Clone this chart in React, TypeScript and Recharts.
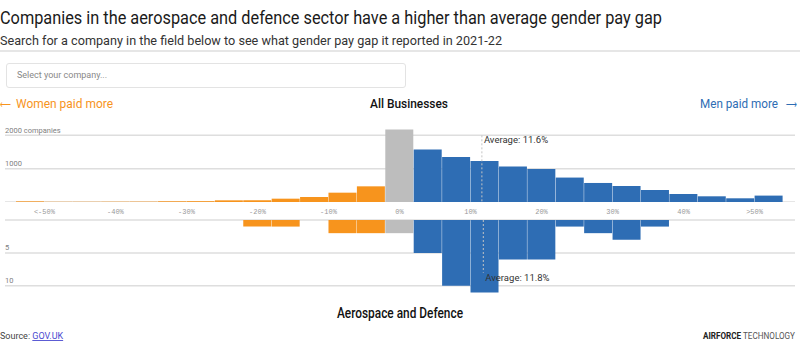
import React from "react"
import { BarChart, Bar, Cell, XAxis, YAxis, CartesianGrid, ReferenceLine } from "recharts"

// 4-point bins of reported gender pay gap (%), from <-50 up to >50
const bins = [
  "<-50", "-50/-46", "-46/-42", "-42/-38", "-38/-34", "-34/-30", "-30/-26", "-26/-22", "-22/-18",
  "-18/-14", "-14/-10", "-10/-6", "-6/-2", "-2/2", "2/6", "6/10", "10/14", "14/18", "18/22",
  "22/26", "26/30", "30/34", "34/38", "38/42", "42/46", "46/50", ">50",
]
// bin centres, used for the numeric % axis
const binMid = [
  -52, -48, -44, -40, -36, -32, -28, -24, -20, -16, -12, -8, -4,
  0,
  4, 8, 12, 16, 20, 24, 28, 32, 36, 40, 44, 48, 52,
]

// number of companies per bin, all businesses
const allBusinesses = [
  20, 8, 8, 10, 12, 22, 25, 50, 55, 100, 150, 280, 470,
  2175,
  1573, 1351, 1231, 1063, 991, 733, 571, 480, 360, 240, 171, 111, 192,
]

// number of companies per bin, aerospace and defence
const aerospace = [
  0, 0, 0, 0, 0, 0, 0, 0, 1, 1, 0, 2, 2,
  2,
  5, 10, 11, 6, 6, 1, 2, 3, 1, 0, 0, 0, 0,
]

const allAverage = 11.6
const aerospaceAverage = 11.8

const xTicks = [-50, -40, -30, -20, -10, 0, 10, 20, 30, 40, 50]
const xDomain = [-54, 54]
const allGrid = [0, 1000, 2000]
const allGridLabels = ["", "1000", "2000 companies"]
const aeroGrid = [0, 5, 10]
const aeroGridLabels = ["", "5", "10"]

const ORANGE = "#F7941D"
const GREY = "#BDBDBD"
const BLUE = "#2E6DB4"
const GRID = "#dedede"

const equalIdx = bins.indexOf("-2/2")
const data = bins.map((bin, i) => ({
  bin,
  mid: binMid[i],
  all: allBusinesses[i],
  aero: aerospace[i],
  fill: i < equalIdx ? ORANGE : i === equalIdx ? GREY : BLUE,
}))

const pad = { left: 11, right: 12 }

const formatPct = (v: number) => (v === -50 ? "<-50%" : v === 50 ? ">50%" : `${v}%`)

// y ticks are kept (the grid follows them) but drawn empty; labels come from ReferenceLines
const EmptyTick = () => <g />

function gridLabel(text: string) {
  return (props: any) => {
    const vb = props.viewBox || {}
    if (!text) return null
    return (
      <text x={vb.x} y={vb.y - 2.5} fontSize={7.5} fill="#808080" fontFamily="Roboto">
        {text}
      </text>
    )
  }
}

function avgLabel(text: string, below: boolean) {
  return (props: any) => {
    const vb = props.viewBox || {}
    const y = below ? vb.y + vb.height + 8 : vb.y + 8
    return (
      <text x={vb.x + 2} y={y} fontSize={9.5} fill="#333" fontFamily="Roboto">
        {text}
      </text>
    )
  }
}

export default function App() {
  return (
    <div style={{ position: "relative", width: 800, height: 351, background: "#fff", overflow: "hidden" }}>
      <style>{`body{margin:0}`}</style>

      <svg width={800} height={351} style={{ position: "absolute", left: 0, top: 0 }}>
        <text x={0} y={24} fontSize={19} fontFamily="Roboto" fill="#1a1a1a" textLength={662} lengthAdjust="spacingAndGlyphs">
          Companies in the aerospace and defence sector have a higher than average gender pay gap
        </text>
        <text x={0} y={45} fontSize={13} fontFamily="Roboto" fill="#333" textLength={502} lengthAdjust="spacingAndGlyphs">
          Search for a company in the field below to see what gender pay gap it reported in 2021-22
        </text>
        <rect x={0} y={50} width={800} height={2} fill="#e6e6e6" />
        <text x={0} y={108} fontSize={11} fontFamily="DejaVu Sans" fill={ORANGE} textLength={11} lengthAdjust="spacingAndGlyphs">⟵</text>
        <text x={16} y={108} fontSize={13} fontFamily="Roboto" fill={ORANGE} textLength={97} lengthAdjust="spacingAndGlyphs">
          Women paid more
        </text>
        <text x={370} y={108} fontSize={13} fontWeight={500} fontFamily="Roboto" fill="#111" textLength={78} lengthAdjust="spacingAndGlyphs">
          All Businesses
        </text>
        <text x={700} y={108} fontSize={13} fontFamily="Roboto" fill={BLUE} textLength={78} lengthAdjust="spacingAndGlyphs">
          Men paid more
        </text>
        <text x={786} y={108} fontSize={11} fontFamily="DejaVu Sans" fill={BLUE} textLength={11} lengthAdjust="spacingAndGlyphs">⟶</text>
        <text x={400} y={318} textAnchor="middle" fontSize={14} fontWeight={500} fontFamily="Roboto" fill="#111" textLength={126} lengthAdjust="spacingAndGlyphs">
          Aerospace and Defence
        </text>
        <text x={0} y={339} fontSize={9} fontFamily="Roboto" fill="#444">
          Source: <tspan fill="#4a4ad0" textDecoration="underline">GOV.UK</tspan>
        </text>
        <text x={703} y={339} fontSize={9} fontFamily="Roboto" fill="#555" textLength={92} lengthAdjust="spacingAndGlyphs">
          <tspan fontWeight={700} fill="#222">AIRFORCE</tspan> TECHNOLOGY
        </text>
      </svg>

      <div
        style={{
          position: "absolute",
          left: 6,
          top: 63,
          width: 400,
          height: 25,
          boxSizing: "border-box",
          border: "1px solid #e3e3e3",
          borderRadius: 3,
          paddingLeft: 10,
          lineHeight: "23px",
          fontSize: 9,
          fontFamily: "Roboto",
          color: "#888",
        }}
      >
        Select your company...
      </div>

      {/* All businesses, bars grow upwards */}
      <BarChart
        width={800}
        height={202}
        data={data}
        margin={{ top: 128, right: 5, bottom: 0, left: 5 }}
        barCategoryGap={0}
        barGap={0}
        style={{ position: "absolute", left: 0, top: 0 }}
      >
        <CartesianGrid vertical={false} syncWithTicks stroke={GRID} strokeWidth={1.5} />
        <XAxis xAxisId="cat" dataKey="bin" hide padding={pad} />
        <XAxis xAxisId="num" dataKey="mid" type="number" domain={xDomain} allowDataOverflow hide padding={pad} />
        <YAxis domain={[0, 2220]} ticks={allGrid} interval={0} allowDataOverflow mirror width={0} axisLine={false} tickLine={false} tick={<EmptyTick />} />
        <Bar xAxisId="cat" dataKey="all" isAnimationActive={false}>
          {data.map((d) => (
            <Cell key={d.bin} fill={d.fill} />
          ))}
        </Bar>
        {allGrid.map((v, i) => (
          <ReferenceLine key={v} xAxisId="cat" y={v} stroke="none" label={gridLabel(allGridLabels[i])} />
        ))}
        <ReferenceLine
          xAxisId="num"
          segment={[{ x: allAverage, y: 2000 }, { x: allAverage, y: 0 }]}
          stroke="#c4c4c4"
          strokeDasharray="2 2"
          label={avgLabel(`Average: ${allAverage}%`, false)}
        />
      </BarChart>

      {/* Aerospace and defence, bars grow downwards */}
      <BarChart
        width={800}
        height={299}
        data={data}
        margin={{ top: 200, right: 5, bottom: 0, left: 5 }}
        barCategoryGap={0}
        barGap={0}
        style={{ position: "absolute", left: 0, top: 0 }}
      >
        <CartesianGrid vertical={false} syncWithTicks stroke={GRID} strokeWidth={1.5} />
        <XAxis xAxisId="cat" dataKey="bin" hide padding={pad} />
        <XAxis
          xAxisId="num"
          dataKey="mid"
          type="number"
          orientation="top"
          domain={xDomain}
          allowDataOverflow
          ticks={xTicks}
          interval={0}
          tickFormatter={formatPct}
          height={20}
          padding={pad}
          axisLine={false}
          tickLine={false}
          tickSize={0}
          tickMargin={6}
          tick={{ fontSize: 7, fill: "#999", fontFamily: "Liberation Mono" }}
        />
        <YAxis reversed domain={[0, 12]} ticks={aeroGrid} interval={0} allowDataOverflow mirror width={0} axisLine={false} tickLine={false} tick={<EmptyTick />} />
        <Bar xAxisId="cat" dataKey="aero" isAnimationActive={false}>
          {data.map((d) => (
            <Cell key={d.bin} fill={d.fill} />
          ))}
        </Bar>
        {aeroGrid.map((v, i) => (
          <ReferenceLine key={v} xAxisId="cat" y={v} stroke="none" label={gridLabel(aeroGridLabels[i])} />
        ))}
        <ReferenceLine
          xAxisId="num"
          segment={[{ x: aerospaceAverage, y: 0 }, { x: aerospaceAverage, y: 8 }]}
          stroke="#c4c4c4"
          strokeDasharray="2 2"
          label={avgLabel(`Average: ${aerospaceAverage}%`, true)}
        />
      </BarChart>
    </div>
  )
}
